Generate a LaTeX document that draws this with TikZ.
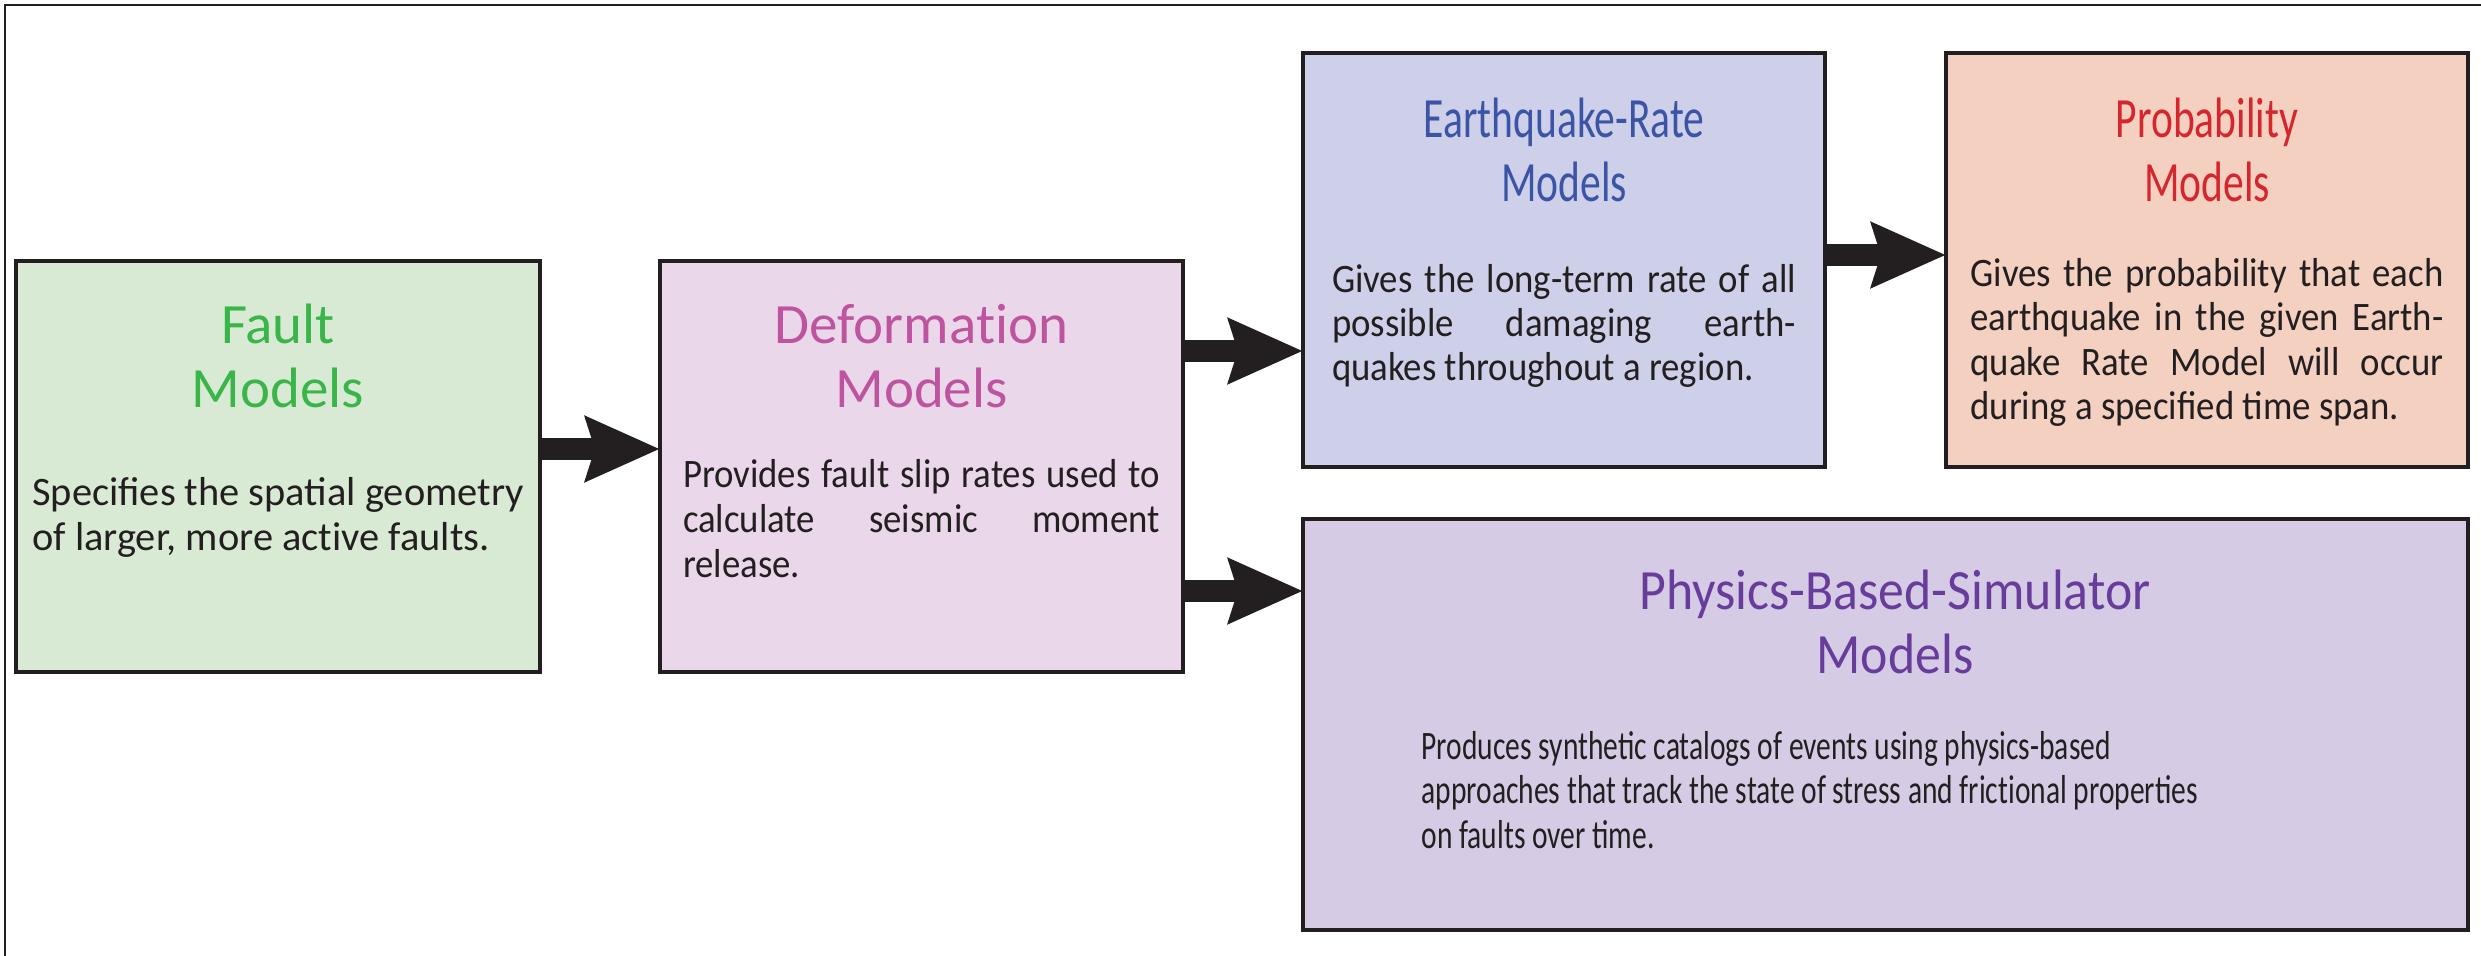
\documentclass[tikz,border=0pt]{standalone}
\usepackage{fontspec}
\setmainfont{Carlito}
\newfontfamily\narrowfont[FakeStretch=0.73]{Carlito}
\newfontfamily\midfont[FakeStretch=0.91]{Carlito}
\usetikzlibrary{arrows.meta}
\tolerance=9999
\hyphenpenalty=10000

\definecolor{faultfill}{RGB}{217,234,212}
\definecolor{faultgreen}{RGB}{57,181,74}
\definecolor{deffill}{RGB}{234,215,233}
\definecolor{defpink}{RGB}{190,83,160}
\definecolor{ratefill}{RGB}{206,208,233}
\definecolor{rateblue}{RGB}{59,84,165}
\definecolor{probfill}{RGB}{243,208,192}
\definecolor{probred}{RGB}{213,38,46}
\definecolor{physfill}{RGB}{214,203,228}
\definecolor{physpurple}{RGB}{104,60,155}
\definecolor{inkgray}{RGB}{35,31,32}

\tikzset{
  modelbox/.style={draw=inkgray, line width=0.9pt, inner sep=0pt, outer sep=0pt},
  modeltitle/.style={align=center, inner sep=0pt, font=\fontsize{16.2}{18.2}\selectfont},
  modeltext/.style={text=inkgray, inner sep=0pt, font=\fontsize{11.5}{12.8}\selectfont},
  bigarrow/.style={draw=inkgray, fill=inkgray, line width=6.5pt, -{Stealth[length=21pt,width=18pt,inset=2.5pt]}}
}

\begin{document}
\begin{tikzpicture}
\useasboundingbox (0,0) rectangle (24.81,9.56);
\draw[inkgray, line width=0.6pt] (0.05,0) -- (0.05,9.51) -- (24.81,9.51);

\node[modelbox, fill=faultfill, minimum width=5.24cm, minimum height=4.11cm] (fault) at (2.78,4.895) {};
\node[modelbox, fill=deffill, minimum width=5.23cm, minimum height=4.11cm] (deform) at (9.215,4.895) {};
\node[modelbox, fill=ratefill, minimum width=5.22cm, minimum height=4.14cm] (eqrate) at (15.64,6.96) {};
\node[modelbox, fill=probfill, minimum width=5.22cm, minimum height=4.14cm] (prob) at (22.07,6.96) {};
\node[modelbox, fill=physfill, minimum width=11.65cm, minimum height=4.11cm] (phys) at (18.855,2.315) {};

\node[modeltitle, text=faultgreen] (faulttitle) at (2.78,6.005) {Fault\\Models};
\node[modeltitle, text=defpink] (deftitle) at (9.215,6.00) {Deformat\kern0pt ion\\Models};
\node[modeltitle, text=rateblue, font=\narrowfont\fontsize{16.2}{18.2}\selectfont] (ratetitle) at (15.64,8.06) {Earthquake-Rate\\Models};
\node[modeltitle, text=probred, font=\narrowfont\fontsize{16.2}{18.2}\selectfont] (probtitle) at (22.07,8.06) {Probability\\Models};
\node[modeltitle, text=physpurple, font=\midfont\fontsize{16.2}{18.2}\selectfont] (phystitle) at (18.95,3.345) {Physics-Based-Simulator\\Models};

\node[modeltext, align=left] (faulttext) at (2.78,4.39) {Specifies the spatial geometry\\of larger, more act\kern0pt ive faults.};
\node[modeltext, align=justify, text width=4.77cm, font=\midfont\fontsize{11.5}{12.8}\selectfont] (deftext) at (9.215,4.37) {Provides fault slip rates used to\linebreak calculate seismic moment\linebreak release.};
\node[modeltext, align=justify, text width=4.64cm, font=\midfont\fontsize{11.5}{12.6}\selectfont] (ratetext) at (15.64,6.30) {Gives the long-term rate of all\linebreak possible damaging earth-\linebreak quakes throughout a region.};
\node[modeltext, align=justify, text width=4.73cm, font=\midfont\fontsize{11.5}{12.6}\selectfont] (probtext) at (22.07,6.135) {Gives the probability that each\linebreak earthquake in the given Earth-\linebreak quake Rate Model will occur\linebreak during a specified time span.};
\node[modeltext, align=left, anchor=west, font=\narrowfont\fontsize{11.5}{12.6}\selectfont] (phystext) at (14.21,1.66) {Produces synthetic catalogs of events using physics-based\\approaches that track the state of stress and frict\kern0pt ional properties\\on faults over time.};

\draw[bigarrow] ([yshift=0.175cm]fault.east) coordinate (a1) -- (a1 -| deform.west);
\draw[bigarrow] ([yshift=1.155cm]deform.east) coordinate (a2) -- (a2 -| eqrate.west);
\draw[bigarrow] ([yshift=0.05cm]eqrate.east) coordinate (a3) -- (a3 -| prob.west);
\draw[bigarrow] ([yshift=-1.245cm]deform.east) coordinate (a4) -- (a4 -| phys.west);
\end{tikzpicture}
\end{document}
